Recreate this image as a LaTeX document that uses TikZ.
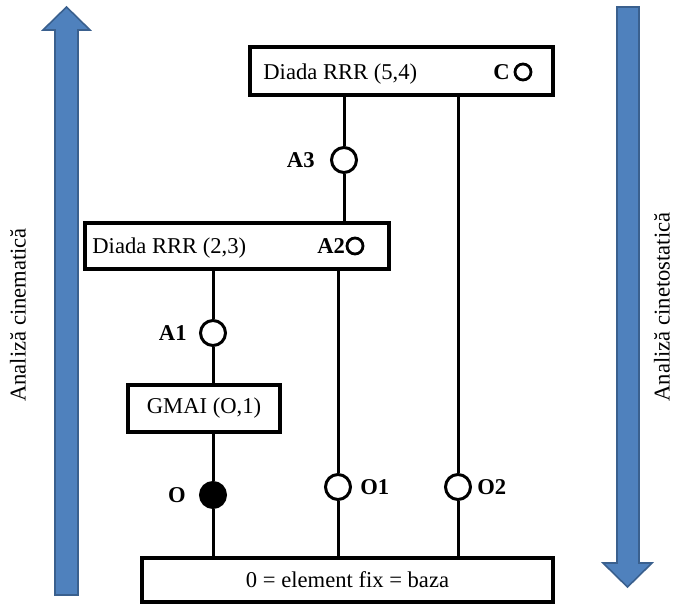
\documentclass[tikz,border=0pt]{standalone}
\usepackage{fontspec}
\setmainfont{Liberation Serif}
\usepackage{tikz}
\usetikzlibrary{calc}
\definecolor{arrowblue}{RGB}{79,129,189}
\definecolor{arrowedge}{RGB}{58,96,142}
\newcommand{\diagfont}{\fontsize{11.3}{13}\selectfont}
\tikzset{
    common/.style={draw, rectangle, line width=1.8pt, inner sep=0pt},
    block/.style={common, font=\diagfont},
    txt/.style={font=\diagfont, inner sep=0pt},
    lbl/.style={font=\diagfont\bfseries, inner sep=0pt},
    joint/.style={draw, circle, line width=1.5pt, fill=white, minimum size=12.5pt, inner sep=0pt},
    fixjoint/.style={joint, fill=black},
    smallring/.style={draw, circle, line width=1.4pt, minimum size=8pt, inner sep=0pt},
    link/.style={line width=1.5pt},
    bigarrow/.style={fill=arrowblue, draw=arrowedge, line width=0.8pt}
}
\begin{document}
\begin{tikzpicture}[x=0.5pt, y=-0.5pt]
    \useasboundingbox (0,0) rectangle (674,605);

    % analysis direction arrows
    \draw[bigarrow] (55,595) -- (55,30) -- (43,30) -- (66.5,7) -- (90,30) -- (78,30) -- (78,595) -- cycle;
    \draw[bigarrow] (617,7) -- (617,563) -- (603,563) -- (627.5,587) -- (652,563) -- (639,563) -- (639,7) -- cycle;
    \node[txt, rotate=90] (cinematic) at (18,315) {Analiză cinematică};
    \node[txt, rotate=90] (cinetostatic) at (662,307) {Analiză cinetostatică};

    % groups
    \node[block, minimum width=151.5pt, minimum height=24pt] (dyad54) at (401.5,71) {};
    \node[txt, anchor=base west] (dyad54-name) at (263,79) {Diada RRR (5,4)};
    \node[lbl, anchor=base west] (C-name) at (493,79) {C};
    \node[smallring] (C) at (523,72) {};

    \node[block, minimum width=152pt, minimum height=23pt] (dyad23) at (237,246) {};
    \node[txt, anchor=base west] (dyad23-name) at (92,253.5) {Diada RRR (2,3)};
    \node[lbl, anchor=base west] (A2-name) at (317,253.5) {A2};
    \node[smallring] (A2) at (355,246) {};

    \node[block, minimum width=76pt, minimum height=23.5pt] (gmai) at (204,408.5) {GMAI (O,1)};
    \node[block, minimum width=205.5pt, minimum height=22pt] (base) at (347.5,580) {0 = element fix = baza};

    % joints
    \node[joint, label={[lbl, label distance=7.5pt]left:A3}] (A3) at (344,160) {};
    \node[joint, label={[lbl, label distance=6pt]left:A1}] (A1) at (213,333) {};
    \node[fixjoint, label={[lbl, label distance=6.5pt]left:O}] (O) at (213,495) {};
    \node[joint, label={[lbl, label distance=4pt]right:O1}] (O1) at (338,487) {};
    \node[joint, label={[lbl, label distance=2.5pt]right:O2}] (O2) at (458,487) {};

    \draw[link] (A3) -- (A3 |- dyad54.south);
    \draw[link] (A3) -- (A3 |- dyad23.north);
    \draw[link] (O2) -- (O2 |- dyad54.south);
    \draw[link] (O2) -- (O2 |- base.north);
    \draw[link] (O1) -- (O1 |- dyad23.south);
    \draw[link] (O1) -- (O1 |- base.north);
    \draw[link] (A1) -- (A1 |- dyad23.south);
    \draw[link] (A1) -- (A1 |- gmai.north);
    \draw[link] (O) -- (O |- gmai.south);
    \draw[link] (O) -- (O |- base.north);
\end{tikzpicture}
\end{document}
